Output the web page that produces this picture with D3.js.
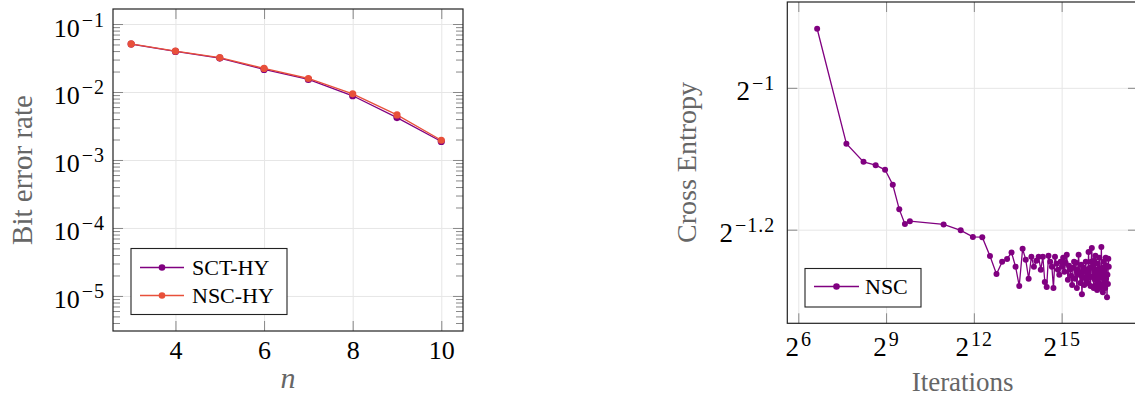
<!DOCTYPE html>
<html>
<head>
<meta charset="utf-8">
<script src="https://cdn.jsdelivr.net/npm/d3@7"></script>
<style>
  html, body { margin: 0; padding: 0; background: #fff; }
  svg { display: block; font-family: "Liberation Serif", "Times New Roman", serif; }
</style>
</head>
<body>
<svg id="chart" width="1135" height="398"></svg>
<script>
// left panel: bit error rate against n
const berN = [3, 4, 5, 6, 7, 8, 9, 10];
const sctHY = [0.0507, 0.0395, 0.0316, 0.0215, 0.0153, 0.0088, 0.0042, 0.00187];
const nscHY = [0.0510, 0.0400, 0.0320, 0.0222, 0.0158, 0.0094, 0.0046, 0.00195];
const berXTicks = [4, 6, 8, 10];
const berYExps = [-5, -4, -3, -2, -1];

// right panel: cross entropy against iterations
const iterations = [
  100, 200, 300, 400, 500, 600, 700, 800, 900,
  2000, 3000, 4000, 5000, 6000, 7000, 8000, 9000,
  10000, 11000, 12000, 13000, 14000, 15000, 16000, 17000, 18000, 19000,
  20000, 21000, 22000, 23000, 24000, 25000, 26000, 27000, 28000, 29000,
  30000, 31000, 32000, 33000, 34000, 35000, 36000, 37000, 38000, 39000,
  40000, 41000, 42000, 43000, 44000, 45000, 46000, 47000, 48000, 49000,
  50000, 51000, 52000, 53000, 54000, 55000, 56000, 57000, 58000, 59000,
  60000, 61000, 62000, 63000, 64000, 65000, 66000, 67000, 68000, 69000,
  70000, 71000, 72000, 73000, 74000, 75000, 76000, 77000, 78000, 79000,
  80000, 81000, 82000, 83000, 84000, 85000, 86000, 87000, 88000, 89000,
  90000, 91000, 92000, 93000, 94000, 95000, 96000, 97000, 98000, 99000,
  100000
];
const nscLoss = [
  0.5297, 0.4734, 0.4651, 0.4636, 0.4615, 0.4548, 0.4440, 0.4377, 0.4389,
  0.4375, 0.4350, 0.4322, 0.4321, 0.4242, 0.4168, 0.4218, 0.4230,
  0.4257, 0.4198, 0.4120, 0.4272, 0.4227, 0.4149, 0.4239, 0.4198, 0.4223, 0.4239,
  0.4186, 0.4239, 0.4136, 0.4116, 0.4243, 0.4218, 0.4198, 0.4112, 0.4239, 0.4210,
  0.4186, 0.4165, 0.4218, 0.4198, 0.4235, 0.4177, 0.4214, 0.4247, 0.4145, 0.4202,
  0.4186, 0.4161, 0.4124, 0.4194, 0.4218, 0.4149, 0.4214, 0.4112, 0.4186, 0.4247,
  0.4165, 0.4132, 0.4206, 0.4087, 0.4177, 0.4194, 0.4124, 0.4153, 0.4218, 0.4145,
  0.4186, 0.4132, 0.4259, 0.4153, 0.4194, 0.4120, 0.4218, 0.4276, 0.4157, 0.4202,
  0.4112, 0.4223, 0.4145, 0.4243, 0.4124, 0.4186, 0.4104, 0.4210, 0.4161, 0.4132,
  0.4235, 0.4112, 0.4186, 0.4153, 0.4280, 0.4124, 0.4194, 0.4095, 0.4165, 0.4218,
  0.4132, 0.4186, 0.4112, 0.4235, 0.4149, 0.4202, 0.4075, 0.4165, 0.4128, 0.4231,
  0.4198
];
const iterXExps = [6, 9, 12, 15];
const lossYExps = [-1.2, -1];

const svg = d3.select('#chart');
const gridColor = '#e6e6e6';
const tickColor = '#888';
const frameColor = '#222';
const labelColor = '#666';
const purple = '#800080';
const red = '#e8503a';

// replace axis tick text with "base" + superscript exponent
function powLabels(g, base, exps, size, expSize, raise) {
  g.selectAll('.tick text').each(function (d, i) {
    const t = d3.select(this).text(null);
    t.append('tspan').text(base);
    t.append('tspan').attr('dx', 2).attr('dy', -raise).attr('font-size', expSize)
      .attr('letter-spacing', 1)
      .text(String(exps[i]).replace('-', '\u2212'));
  });
  g.attr('font-size', size).attr('font-family', null);
}

function styleTicks(g) {
  g.select('.domain').remove();
  g.selectAll('line').attr('stroke', tickColor);
}

// ---------------- left panel ----------------
const L = { left: 113, right: 463, top: 9, bottom: 331 };
const xBer = d3.scaleLinear().domain([2.59, 10.49]).range([L.left, L.right]);
const yBer = d3.scaleLog().domain([3.05e-6, 0.1663]).range([L.bottom, L.top]);
const berYMajor = berYExps.map(e => Math.pow(10, e));
const berYMinor = [];
for (let e = -6; e <= -1; e++) {
  for (let k = 2; k <= 9; k++) {
    const v = k * Math.pow(10, e);
    if (v > yBer.domain()[0] && v < yBer.domain()[1]) berYMinor.push(v);
  }
}

const left = svg.append('g');

// grid
left.append('g').attr('transform', `translate(0,${L.bottom})`)
  .call(d3.axisBottom(xBer).tickValues(berXTicks).tickSize(-(L.bottom - L.top)).tickFormat(''))
  .call(g => { g.select('.domain').remove(); g.selectAll('line').attr('stroke', gridColor); });
left.append('g').attr('transform', `translate(${L.left},0)`)
  .call(d3.axisLeft(yBer).tickValues(berYMajor).tickSize(-(L.right - L.left)).tickFormat(''))
  .call(g => { g.select('.domain').remove(); g.selectAll('line').attr('stroke', gridColor); });

// minor ticks, both sides
left.append('g').attr('transform', `translate(${L.left},0)`)
  .call(d3.axisLeft(yBer).tickValues(berYMinor).tickSize(-7).tickFormat(''))
  .call(styleTicks);
left.append('g').attr('transform', `translate(${L.right},0)`)
  .call(d3.axisRight(yBer).tickValues(berYMinor).tickSize(-7).tickFormat(''))
  .call(styleTicks);

// major ticks
left.append('g').attr('transform', `translate(${L.left},0)`)
  .call(d3.axisLeft(yBer).tickValues(berYMajor).tickSize(-10).tickPadding(8))
  .call(styleTicks)
  .call(g => powLabels(g, '10', berYExps, 26, 20, 10))
  .call(g => g.selectAll('text').attr('dy', 12).attr('fill', '#000'));
left.append('g').attr('transform', `translate(${L.right},0)`)
  .call(d3.axisRight(yBer).tickValues(berYMajor).tickSize(-10).tickFormat(''))
  .call(styleTicks);
left.append('g').attr('transform', `translate(0,${L.bottom})`)
  .call(d3.axisBottom(xBer).tickValues(berXTicks).tickSize(-10).tickFormat(d3.format('d')))
  .call(styleTicks)
  .call(g => g.attr('font-size', 26).attr('font-family', null))
  .call(g => g.selectAll('text').attr('y', 0).attr('dy', 28).attr('fill', '#000'));
left.append('g').attr('transform', `translate(0,${L.top})`)
  .call(d3.axisTop(xBer).tickValues(berXTicks).tickSize(-10).tickFormat(''))
  .call(styleTicks);

// series
const berSeries = [
  { name: 'SCT-HY', values: sctHY, color: purple },
  { name: 'NSC-HY', values: nscHY, color: red }
];
berSeries.forEach(s => {
  const line = d3.line().x((d, i) => xBer(berN[i])).y(d => yBer(d));
  left.append('path').datum(s.values)
    .attr('d', line).attr('fill', 'none').attr('stroke', s.color).attr('stroke-width', 1.3);
  left.selectAll(null).data(s.values).enter().append('circle')
    .attr('cx', (d, i) => xBer(berN[i])).attr('cy', d => yBer(d))
    .attr('r', 3.6).attr('fill', s.color);
});

// frame
left.append('rect')
  .attr('x', L.left).attr('y', L.top)
  .attr('width', L.right - L.left).attr('height', L.bottom - L.top)
  .attr('fill', 'none').attr('stroke', frameColor).attr('stroke-width', 1.2);

// legend
const legL = left.append('g').attr('transform', 'translate(131,248.5)');
legL.append('rect').attr('width', 156).attr('height', 66)
  .attr('fill', '#fff').attr('stroke', frameColor).attr('stroke-width', 1.1);
berSeries.forEach((s, i) => {
  const cy = 19 + i * 28;
  legL.append('line').attr('x1', 9).attr('x2', 53).attr('y1', cy).attr('y2', cy)
    .attr('stroke', s.color).attr('stroke-width', 1.3);
  legL.append('circle').attr('cx', 31).attr('cy', cy).attr('r', 3.3).attr('fill', s.color);
  legL.append('text').attr('x', 61).attr('y', cy + 7.5)
    .attr('font-size', 22).attr('fill', '#000').text(s.name);
});

// axis titles
left.append('text')
  .attr('transform', 'translate(31.5,170) rotate(-90)')
  .attr('text-anchor', 'middle').attr('font-size', 29).attr('fill', labelColor)
  .text('Bit error rate');
left.append('text')
  .attr('x', (L.left + L.right) / 2).attr('y', 388)
  .attr('text-anchor', 'middle').attr('font-size', 30).attr('font-style', 'italic')
  .attr('fill', labelColor).text('n');

// ---------------- right panel ----------------
const R = { left: 787.3, right: 1138, top: 2, bottom: 323.3 };
const xIt = d3.scaleLog().base(2).domain([Math.pow(2, 5.624), Math.pow(2, 17.61)]).range([R.left, R.right]);
const yLoss = d3.scaleLog().base(2).domain([Math.pow(2, -1.332), Math.pow(2, -0.879)]).range([R.bottom, R.top]);
const itXTicks = iterXExps.map(e => Math.pow(2, e));
const lossYTicks = lossYExps.map(e => Math.pow(2, e));

const right = svg.append('g');

right.append('g').attr('transform', `translate(0,${R.bottom})`)
  .call(d3.axisBottom(xIt).tickValues(itXTicks).tickSize(-(R.bottom - R.top)).tickFormat(''))
  .call(g => { g.select('.domain').remove(); g.selectAll('line').attr('stroke', gridColor); });
right.append('g').attr('transform', `translate(${R.left},0)`)
  .call(d3.axisLeft(yLoss).tickValues(lossYTicks).tickSize(-(R.right - R.left)).tickFormat(''))
  .call(g => { g.select('.domain').remove(); g.selectAll('line').attr('stroke', gridColor); });

right.append('g').attr('transform', `translate(${R.left},0)`)
  .call(d3.axisLeft(yLoss).tickValues(lossYTicks).tickSize(-10).tickPadding(12))
  .call(styleTicks)
  .call(g => powLabels(g, '2', lossYExps, 27, 20, 10))
  .call(g => g.selectAll('text').attr('dy', 11.5).attr('fill', '#000'));
right.append('g').attr('transform', `translate(${R.right},0)`)
  .call(d3.axisRight(yLoss).tickValues(lossYTicks).tickSize(-10).tickFormat(''))
  .call(styleTicks);
right.append('g').attr('transform', `translate(0,${R.bottom})`)
  .call(d3.axisBottom(xIt).tickValues(itXTicks).tickSize(-10))
  .call(styleTicks)
  .call(g => powLabels(g, '2', iterXExps, 27, 20, 10))
  .call(g => g.selectAll('text').attr('y', 0).attr('dy', 32.5).attr('fill', '#000'));
right.append('g').attr('transform', `translate(0,${R.top})`)
  .call(d3.axisTop(xIt).tickValues(itXTicks).tickSize(-10).tickFormat(''))
  .call(styleTicks);

const lossLine = d3.line().x((d, i) => xIt(iterations[i])).y(d => yLoss(d));
right.append('path').datum(nscLoss)
  .attr('d', lossLine).attr('fill', 'none').attr('stroke', purple).attr('stroke-width', 1.3);
right.selectAll(null).data(nscLoss).enter().append('circle')
  .attr('cx', (d, i) => xIt(iterations[i])).attr('cy', d => yLoss(d))
  .attr('r', 3).attr('fill', purple);

right.append('rect')
  .attr('x', R.left).attr('y', R.top)
  .attr('width', R.right - R.left).attr('height', R.bottom - R.top)
  .attr('fill', 'none').attr('stroke', frameColor).attr('stroke-width', 1.2);

const legR = right.append('g').attr('transform', 'translate(805,268.5)');
legR.append('rect').attr('width', 116).attr('height', 38.5)
  .attr('fill', '#fff').attr('stroke', frameColor).attr('stroke-width', 1.1);
legR.append('line').attr('x1', 9).attr('x2', 54).attr('y1', 18).attr('y2', 18)
  .attr('stroke', purple).attr('stroke-width', 1.3);
legR.append('circle').attr('cx', 31.5).attr('cy', 18).attr('r', 3.3).attr('fill', purple);
legR.append('text').attr('x', 60).attr('y', 25.5)
  .attr('font-size', 22).attr('fill', '#000').text('NSC');

right.append('text')
  .attr('transform', 'translate(696,162.5) rotate(-90)')
  .attr('text-anchor', 'middle').attr('font-size', 28).attr('fill', labelColor)
  .text('Cross Entropy');
right.append('text')
  .attr('x', (R.left + R.right) / 2).attr('y', 390.5)
  .attr('text-anchor', 'middle').attr('font-size', 27).attr('fill', labelColor)
  .text('Iterations');
</script>
</body>
</html>
